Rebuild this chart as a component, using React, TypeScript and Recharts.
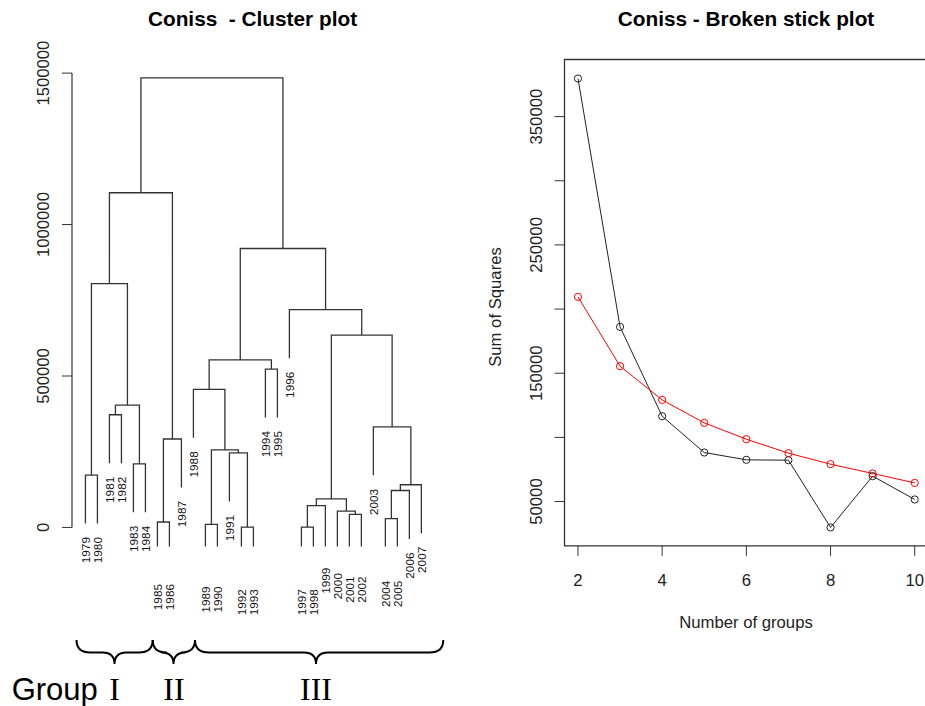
import React from 'react';
import {
  ComposedChart,
  Line,
  XAxis,
  YAxis,
  Scatter,
  ReferenceLine,
  ReferenceArea,
} from 'recharts';

// ---------- Cluster plot (CONISS dendrogram) ----------
const leafLabels = [
  '1979', '1980', '1981', '1982', '1983', '1984', '1985', '1986', '1987', '1988',
  '1989', '1990', '1991', '1992', '1993', '1994', '1995', '1996', '1997', '1998',
  '1999', '2000', '2001', '2002', '2003', '2004', '2005', '2006', '2007',
];

// hclust-style merges: [left, right, height]; negative = leaf (1-based), positive = earlier merge
const merges: [number, number, number][] = [
  [-14, -15, 1000],
  [-19, -20, 1000],
  [-11, -12, 10000],
  [-7, -8, 18000],
  [-26, -27, 29000],
  [-23, -24, 43000],
  [-22, 6, 54000],
  [2, -21, 72000],
  [8, 7, 94000],
  [5, -28, 122000],
  [10, -29, 141000],
  [-1, -2, 173000],
  [-5, -6, 210000],
  [-13, 1, 246000],
  [3, 14, 256000],
  [4, -9, 292000],
  [-25, 11, 332000],
  [-3, -4, 372000],
  [18, 13, 404000],
  [-10, 15, 456000],
  [-16, -17, 523000],
  [20, 21, 553000],
  [9, 17, 635000],
  [-18, 23, 719000],
  [12, 19, 805000],
  [22, 24, 921000],
  [25, 16, 1105000],
  [27, 26, 1484000],
];

const HANG = 160000;
const LEAF_FLOOR = -63000;
const clusterTicks = [0, 500000, 1000000, 1500000];

// ---------- Broken stick plot ----------
const groupCounts = [2, 3, 4, 5, 6, 7, 8, 9, 10];
const sumOfSquares = [379700, 186100, 116500, 88200, 82500, 82200, 29800, 69800, 51600];
const brokenStick = [209500, 155500, 129200, 111300, 98600, 87700, 79100, 71900, 64500];
const ssTicks = [50000, 100000, 150000, 200000, 250000, 300000, 350000];
const ssLabeledTicks = [50000, 150000, 250000, 350000];
const groupTicks = [2, 4, 6, 8, 10];

// ---------- derived structures ----------
const nodeX: number[] = [];
const nodeH: number[] = [];
const posOf = (c: number) => (c < 0 ? -c : nodeX[c - 1]);
merges.forEach(([a, b, h], i) => {
  nodeX[i] = (posOf(a) + posOf(b)) / 2;
  nodeH[i] = h;
});
const childTop = (c: number, parentH: number) =>
  c < 0 ? Math.max(parentH - HANG, LEAF_FLOOR) : nodeH[c - 1];

const segments = merges.map(([a, b, h]) => [
  { x: posOf(a), y: childTop(a, h) },
  { x: posOf(a), y: h },
  { x: posOf(b), y: h },
  { x: posOf(b), y: childTop(b, h) },
]);

const leafPoints = leafLabels.map((label, i) => {
  const m = merges.find(([a, b]) => a === -(i + 1) || b === -(i + 1));
  return { x: i + 1, y: (m ? m[2] : 0) - HANG, label };
});

const ssData = groupCounts.map((g, i) => ({ g, ss: sumOfSquares[i], bs: brokenStick[i] }));

const SANS = 'Liberation Sans, Arial, sans-serif';
const SERIF = 'Liberation Serif, Times New Roman, serif';
const LINE = '#333';

const LeafLabel = (props: any) => {
  const { cx, cy, payload } = props;
  const tx = cx + 4.3;
  const ty = cy + 13.5;
  return (
    <text
      x={tx}
      y={ty}
      transform={`rotate(-90 ${tx} ${ty})`}
      textAnchor="end"
      fontFamily={SANS}
      fontSize={11.8}
      fill="#111"
    >
      {payload.label}
    </text>
  );
};

const makeYTick = (labelled: number[] | null) => (props: any) => {
  const { x, y, payload } = props;
  if (labelled && !labelled.includes(payload.value)) return <g />;
  const tx = x - 10.5;
  return (
    <text
      x={tx}
      y={y}
      transform={`rotate(-90 ${tx} ${y})`}
      textAnchor="middle"
      fontFamily={SANS}
      fontSize={16.7}
      fill="#222"
    >
      {payload.value}
    </text>
  );
};

const XTick = (props: any) => {
  const { x, y, payload } = props;
  return (
    <text x={x} y={y + 28} textAnchor="middle" fontFamily={SANS} fontSize={16.7} fill="#222">
      {payload.value}
    </text>
  );
};

const bracePath = (x1: number, x2: number, tip: number, top: number, mid: number, bottom: number) =>
  `M ${x1} ${top} Q ${x1} ${mid} ${x1 + 14} ${mid} L ${tip - 12} ${mid} Q ${tip} ${mid} ${tip} ${bottom} ` +
  `Q ${tip} ${mid} ${tip + 12} ${mid} L ${x2 - 14} ${mid} Q ${x2} ${mid} ${x2} ${top}`;

export default function App() {
  return (
    <div
      style={{
        position: 'absolute',
        left: 0,
        top: 0,
        width: 925,
        height: 706,
        overflow: 'hidden',
        background: '#fff',
      }}
    >
      {/* Left: dendrogram */}
      <div style={{ position: 'absolute', left: 0, top: 0 }}>
        <ComposedChart
          width={460}
          height={640}
          margin={{ top: 61, right: 25.2, bottom: 21.7, left: 0 }}
        >
          <XAxis
            dataKey="x"
            type="number"
            domain={[-0.12, 30.12]}
            allowDataOverflow
            hide
          />
          <YAxis
            dataKey="y"
            type="number"
            domain={[-300000, 1540000]}
            allowDataOverflow
            ticks={clusterTicks}
            width={72}
            axisLine={false}
            tickLine={{ stroke: LINE }}
            tickSize={10}
            tick={makeYTick(null)}
            interval={0}
          />
          <ReferenceLine
            segment={[
              { x: -0.12, y: 0 },
              { x: -0.12, y: 1500000 },
            ]}
            stroke={LINE}
            strokeWidth={1.2}
            ifOverflow="visible"
          />
          {segments.map((seg, i) => (
            <Line
              key={i}
              data={seg}
              dataKey="y"
              type="linear"
              stroke={LINE}
              strokeWidth={1.3}
              dot={false}
              activeDot={false}
              isAnimationActive={false}
            />
          ))}
          <Scatter
            data={leafPoints}
            dataKey="y"
            shape={LeafLabel}
            isAnimationActive={false}
          />
        </ComposedChart>
      </div>

      {/* Right: broken stick */}
      <div style={{ position: 'absolute', left: 480, top: 0 }}>
        <ComposedChart
          width={460}
          height={640}
          data={ssData}
          margin={{ top: 59.5, right: 11.8, bottom: 34.2, left: 0 }}
        >
          <XAxis
            dataKey="g"
            type="number"
            domain={[1.68, 10.32]}
            allowDataOverflow
            ticks={groupTicks}
            interval={0}
            height={60}
            axisLine={false}
            tickLine={{ stroke: LINE }}
            tickSize={10}
            tick={XTick}
          />
          <YAxis
            type="number"
            domain={[15500, 394500]}
            allowDataOverflow
            ticks={ssTicks}
            interval={0}
            width={84.5}
            axisLine={false}
            tickLine={{ stroke: LINE }}
            tickSize={10}
            tick={makeYTick(ssLabeledTicks)}
          />
          <ReferenceArea
            x1={1.68}
            x2={10.32}
            y1={15500}
            y2={394500}
            fill="none"
            fillOpacity={0}
            stroke={LINE}
            strokeWidth={1.3}
            ifOverflow="visible"
          />
          <Line
            dataKey="ss"
            type="linear"
            stroke="#222"
            strokeWidth={1}
            dot={{ r: 3.6, stroke: '#222', strokeWidth: 1, fill: 'none' }}
            activeDot={false}
            isAnimationActive={false}
          />
          <Line
            dataKey="bs"
            type="linear"
            stroke="#ff0000"
            strokeWidth={1}
            dot={{ r: 3.6, stroke: '#ff0000', strokeWidth: 1, fill: 'none' }}
            activeDot={false}
            isAnimationActive={false}
          />
        </ComposedChart>
      </div>

      {/* Titles, axis titles and group annotations */}
      <svg
        width={925}
        height={706}
        style={{ position: 'absolute', left: 0, top: 0, pointerEvents: 'none' }}
      >
        <text
          x={252.5}
          y={25.7}
          textAnchor="middle"
          fontFamily={SANS}
          fontWeight="bold"
          fontSize={20.8}
          fill="#000"
          style={{ whiteSpace: 'pre' }}
        >
          {'Coniss  - Cluster plot'}
        </text>
        <text
          x={746}
          y={25.7}
          textAnchor="middle"
          fontFamily={SANS}
          fontWeight="bold"
          fontSize={20.8}
          fill="#000"
        >
          Coniss - Broken stick plot
        </text>
        <text
          x={746}
          y={627.7}
          textAnchor="middle"
          fontFamily={SANS}
          fontSize={16.7}
          fill="#222"
        >
          Number of groups
        </text>
        <text
          x={501}
          y={307}
          transform="rotate(-90 501 307)"
          textAnchor="middle"
          fontFamily={SANS}
          fontSize={16.7}
          fill="#222"
        >
          Sum of Squares
        </text>

        <g fill="none" stroke="#000" strokeWidth={2}>
          <path d={bracePath(76.5, 152.7, 114.5, 640, 652.5, 664)} />
          <path d={bracePath(152.7, 195, 173.5, 640, 652.5, 664)} />
          <path d={bracePath(195, 443.3, 316, 640, 652.5, 664)} />
        </g>

        <text x={11.7} y={700} fontFamily={SANS} fontSize={31} fill="#000">
          Group
        </text>
        <text x={114.5} y={700} textAnchor="middle" fontFamily={SERIF} fontSize={32} fill="#000">
          I
        </text>
        <text x={174} y={700} textAnchor="middle" fontFamily={SERIF} fontSize={32} fill="#000">
          II
        </text>
        <text x={316} y={700} textAnchor="middle" fontFamily={SERIF} fontSize={32} fill="#000">
          III
        </text>
      </svg>
    </div>
  );
}
